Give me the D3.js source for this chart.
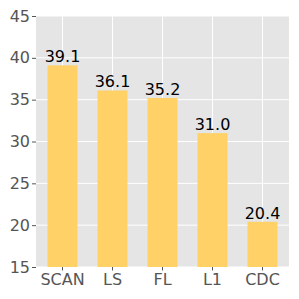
<!DOCTYPE html>
<html><head><meta charset="utf-8">
<script src="https://cdn.jsdelivr.net/npm/d3@7"></script>
<style>body{margin:0;background:#fff;}svg{display:block;}</style>
</head><body>
<script>
const categories = ["SCAN", "LS", "FL", "L1", "CDC"];
const values = [39.1, 36.1, 35.2, 31.0, 20.4];
const yTicks = [15, 20, 25, 30, 35, 40, 45];

const W = 299, H = 299;
const m = {left: 36, right: 10, top: 16, bottom: 32};
const svg = d3.select("body").append("svg").attr("width", W).attr("height", H);
const x = d3.scaleBand().domain(categories).range([m.left, W - m.right]).paddingInner(0.4).paddingOuter(0.23);
const y = d3.scaleLinear().domain([15, 45]).range([H - m.bottom, m.top]);

svg.append("rect").attr("x", m.left).attr("y", m.top).attr("width", W - m.left - m.right).attr("height", H - m.top - m.bottom).attr("fill", "#E5E5E5");

// grid
svg.append("g").selectAll("line").data(yTicks).join("line")
  .attr("x1", m.left).attr("x2", W - m.right).attr("y1", d => y(d)).attr("y2", d => y(d))
  .attr("stroke", "#fff").attr("stroke-width", 1);
svg.append("g").selectAll("line").data(categories).join("line")
  .attr("x1", d => x(d) + x.bandwidth() / 2).attr("x2", d => x(d) + x.bandwidth() / 2)
  .attr("y1", m.top).attr("y2", H - m.bottom)
  .attr("stroke", "#fff").attr("stroke-width", 1);

// bars
svg.append("g").selectAll("rect").data(values).join("rect")
  .attr("x", (d, i) => x(categories[i])).attr("width", x.bandwidth())
  .attr("y", d => y(d)).attr("height", d => y(15) - y(d))
  .attr("fill", "#FFD166");

// labels
svg.append("g").selectAll("text").data(values).join("text")
  .attr("x", (d, i) => x(categories[i]) + x.bandwidth() / 2)
  .attr("y", d => y(d) - 3)
  .attr("text-anchor", "middle")
  .attr("font-family", "DejaVu Sans").attr("font-size", 16).attr("fill", "#000")
  .text(d => d.toFixed(1));

// axes
const yAxis = d3.axisLeft(y).tickValues(yTicks).tickSize(4).tickPadding(2);
const gy = svg.append("g").attr("transform", `translate(${m.left},0)`).call(yAxis);
gy.select(".domain").remove();
gy.selectAll("line").attr("stroke", "#555");
gy.selectAll("text").attr("font-family", "DejaVu Sans").attr("font-size", 16).attr("fill", "#555");

const xAxis = d3.axisBottom(x).tickSize(3.5).tickPadding(3);
const gx = svg.append("g").attr("transform", `translate(0,${H - m.bottom})`).call(xAxis);
gx.select(".domain").remove();
gx.selectAll("line").attr("stroke", "#555");
gx.selectAll("text").attr("font-family", "DejaVu Sans").attr("font-size", 16).attr("fill", "#555");
</script>
</body></html>
